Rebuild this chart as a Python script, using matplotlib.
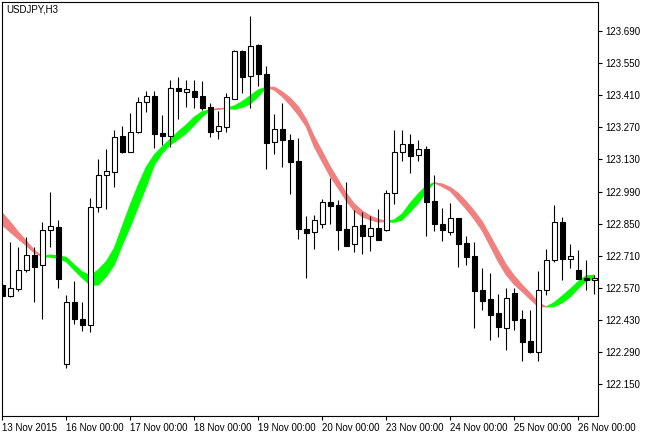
import numpy as np
import matplotlib
matplotlib.use("Agg")
import matplotlib.pyplot as plt
from matplotlib.patches import Rectangle

plt.rcParams["font.family"] = ["Liberation Sans", "DejaVu Sans"]

# USDJPY H3 candles, 13 Nov 2015 .. 26 Nov 2015
opens = [122.582, 122.533, 122.566, 122.646, 122.713, 122.668, 122.821, 122.835,
         122.237, 122.507, 122.433, 122.407, 122.921, 123.061, 123.076, 123.232,
         123.164, 123.248, 123.379, 123.405, 123.245, 123.233, 123.441, 123.425,
         123.428, 123.407, 123.359, 123.253, 123.273, 123.395, 123.603, 123.492,
         123.629, 123.503, 123.205, 123.263, 123.215, 123.123, 122.827, 122.812,
         122.847, 122.943, 122.930, 122.827, 122.760, 122.843, 122.795, 122.831,
         122.821, 122.982, 123.161, 123.196, 123.148, 123.174, 122.947, 122.847,
         122.812, 122.873, 122.764, 122.708, 122.559, 122.520, 122.459, 122.396,
         122.546, 122.434, 122.338, 122.291, 122.559, 122.690, 122.856, 122.694,
         122.646, 122.613, 122.603]
highs = [122.591, 122.771, 122.749, 122.793, 122.749, 122.857, 122.987, 122.865,
         122.539, 122.600, 122.507, 122.960, 123.131, 123.175, 123.258, 123.276,
         123.334, 123.402, 123.430, 123.430, 123.324, 123.476, 123.488, 123.476,
         123.476, 123.472, 123.375, 123.341, 123.418, 123.607, 123.607, 123.757,
         123.635, 123.537, 123.328, 123.375, 123.240, 123.222, 122.883, 122.888,
         122.957, 123.048, 122.954, 123.032, 122.909, 122.901, 122.885, 122.914,
         122.997, 123.257, 123.257, 123.240, 123.213, 123.187, 123.061, 122.917,
         122.940, 122.873, 122.795, 122.770, 122.657, 122.633, 122.543, 122.569,
         122.568, 122.473, 122.473, 122.643, 122.741, 122.931, 122.879, 122.761,
         122.734, 122.690, 122.626]
lows = [122.530, 122.530, 122.556, 122.639, 122.510, 122.433, 122.749, 122.571,
        122.219, 122.411, 122.382, 122.379, 122.902, 122.912, 123.011, 123.159,
        123.162, 123.245, 123.335, 123.181, 123.193, 123.185, 123.306, 123.357,
        123.356, 123.346, 123.229, 123.218, 123.248, 123.393, 123.421, 123.353,
        123.452, 123.087, 123.154, 123.098, 122.978, 122.784, 122.614, 122.741,
        122.832, 122.850, 122.736, 122.751, 122.728, 122.719, 122.732, 122.777,
        122.819, 122.934, 123.124, 123.072, 123.122, 122.797, 122.819, 122.776,
        122.802, 122.662, 122.670, 122.396, 122.473, 122.343, 122.357, 122.299,
        122.386, 122.252, 122.284, 122.252, 122.537, 122.683, 122.603, 122.657,
        122.608, 122.559, 122.544]
closes = [122.536, 122.568, 122.648, 122.712, 122.662, 122.821, 122.838, 122.607,
          122.507, 122.433, 122.407, 122.921, 123.062, 123.078, 123.228, 123.164,
          123.248, 123.379, 123.405, 123.242, 123.233, 123.440, 123.430, 123.436,
          123.404, 123.356, 123.251, 123.274, 123.401, 123.603, 123.491, 123.623,
          123.501, 123.203, 123.261, 123.213, 123.120, 122.825, 122.810, 122.865,
          122.943, 122.928, 122.824, 122.754, 122.838, 122.795, 122.831, 122.780,
          122.982, 123.161, 123.196, 123.146, 123.174, 122.946, 122.847, 122.821,
          122.873, 122.762, 122.706, 122.557, 122.514, 122.453, 122.398, 122.524,
          122.430, 122.335, 122.290, 122.559, 122.690, 122.856, 122.694, 122.708,
          122.610, 122.603, 122.613]

# indicator cloud: green where fast > slow, salmon where fast < slow
band_fast = [122.844, 122.813, 122.783, 122.754, 122.723, 122.706, 122.713, 122.709,
             122.703, 122.670, 122.639, 122.622, 122.648, 122.684, 122.742, 122.837,
             122.931, 123.018, 123.096, 123.149, 123.185, 123.218, 123.251, 123.280,
             123.314, 123.338, 123.346, 123.348, 123.353, 123.363, 123.382, 123.407,
             123.433, 123.444, 123.433, 123.404, 123.367, 123.324, 123.273, 123.185,
             123.120, 123.055, 123.004, 122.950, 122.905, 122.880, 122.866, 122.857,
             122.859, 122.866, 122.892, 122.939, 122.979, 123.014, 123.028, 123.011,
             122.992, 122.953, 122.913, 122.869, 122.819, 122.752, 122.684, 122.626,
             122.585, 122.553, 122.520, 122.488, 122.487, 122.505, 122.534, 122.564,
             122.597, 122.622, 122.625]
band_slow = [122.896, 122.857, 122.813, 122.774, 122.734, 122.706, 122.704, 122.698,
             122.684, 122.648, 122.613, 122.582, 122.582, 122.619, 122.670, 122.757,
             122.837, 122.924, 123.011, 123.106, 123.157, 123.193, 123.218, 123.244,
             123.280, 123.316, 123.346, 123.352, 123.353, 123.349, 123.357, 123.372,
             123.404, 123.444, 123.445, 123.425, 123.397, 123.360, 123.305, 123.229,
             123.164, 123.098, 123.040, 122.982, 122.936, 122.905, 122.883, 122.869,
             122.859, 122.856, 122.866, 122.902, 122.939, 122.989, 123.028, 123.023,
             123.008, 122.982, 122.946, 122.905, 122.858, 122.796, 122.732, 122.670,
             122.622, 122.582, 122.546, 122.505, 122.487, 122.488, 122.505, 122.531,
             122.568, 122.601, 122.607]

price_ticks = [122.150, 122.290, 122.430, 122.570, 122.710, 122.850, 122.990,
               123.130, 123.270, 123.410, 123.550, 123.690]
date_ticks = [0, 8, 16, 24, 32, 40, 48, 56, 64, 72]
date_labels = ["13 Nov 2015", "16 Nov 00:00", "17 Nov 00:00", "18 Nov 00:00",
               "19 Nov 00:00", "20 Nov 00:00", "23 Nov 00:00", "24 Nov 00:00",
               "25 Nov 00:00", "26 Nov 00:00"]

W, H = 651, 436
fig = plt.figure(figsize=(W / 100, H / 100), dpi=100)
ax = fig.add_axes([2 / W, 1 - 416 / H, 596 / W, 414 / H])

x = np.arange(len(opens))
fast = np.array(band_fast)
slow = np.array(band_slow)
ax.fill_between(x, fast, slow, where=fast >= slow, interpolate=True,
                color="#00ff00", lw=0.8, zorder=1)
ax.fill_between(x, fast, slow, where=fast <= slow, interpolate=True,
                color="#f08080", lw=0.8, zorder=1)

bw = 0.6
for i in range(len(opens)):
    o, h, l, c = opens[i], highs[i], lows[i], closes[i]
    ax.vlines(i, l, h, color="black", lw=0.8, zorder=3)
    lo, hi = min(o, c), max(o, c)
    face = "white" if c >= o else "black"
    ax.add_patch(Rectangle((i - bw / 2, lo), bw, max(hi - lo, 0.002),
                           facecolor=face, edgecolor="black", lw=0.8, zorder=4))

ax.set_xlim(-0.04, 74.46)
ax.set_ylim(122.011, 123.8165)

ax.yaxis.tick_right()
ax.set_yticks(price_ticks)
ax.set_yticklabels(["%.3f" % v for v in price_ticks])
ax.set_xticks(date_ticks)
ax.set_xticklabels(date_labels)
for lab in ax.get_xticklabels():
    lab.set_horizontalalignment("left")

ax.tick_params(axis="both", direction="out", length=3, width=0.8,
               labelsize=7, colors="black", pad=2)
for sp in ax.spines.values():
    sp.set_linewidth(0.8)
    sp.set_color("black")

fig.text(6 / W, 1 - 4 / H, "USDJPY,H3", fontsize=7, va="top", ha="left")

fig.savefig("out.png", dpi=100)
